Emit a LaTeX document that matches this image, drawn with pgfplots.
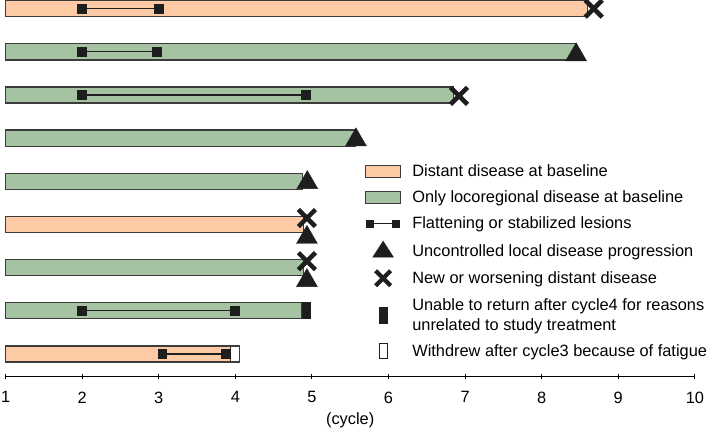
\documentclass[border=0pt]{standalone}
\usepackage{fontspec}
\setmainfont{Liberation Sans}
\usepackage{pgfplots}
\pgfplotsset{compat=1.18}

\definecolor{distant}{RGB}{252,203,166}
\definecolor{locoreg}{RGB}{165,195,163}
\definecolor{edge}{RGB}{60,60,60}
\definecolor{mk}{RGB}{30,30,30}

% bar outlines, half height 0.186 around each row
\pgfplotsset{
  swim/.style={draw=edge, line width=1.3pt, fill=#1, forget plot},
  flat/.style={mk, line width=1.2pt, mark=square*, mark size=4.3pt, mark options={fill=mk}, forget plot},
}

\begin{document}
\begin{tikzpicture}[font=\fontsize{16.3}{19.5}\selectfont]
\begin{axis}[
  x=76.3pt, y=43pt,
  xmin=1, xmax=10, ymin=0.47, ymax=9.27,
  axis x line*=bottom, axis y line=none,
  xtick={1,...,10}, ytick=\empty,
  xtick align=center, major tick length=5pt,
  tick style={black, line width=0.9pt},
  axis line style={black, line width=1pt},
  /pgf/number format/assume math mode=true,
  xticklabel style={inner sep=1pt, yshift=-11pt},
  xlabel={(cycle)},
  xlabel style={yshift=-5pt},
  clip=false,
  legend style={at={(axis cs:5.69,5.44)}, anchor=north west, draw=none, fill=none,
    row sep=8.7pt, column sep=9pt, inner sep=0pt, legend cell align=left},
]
% --- bars ---
\addplot[swim=distant] coordinates {(1,8.814) (8.6,8.814) (8.6,9.186) (1,9.186)} -- cycle;
\addplot[swim=locoreg] coordinates {(1,7.814) (8.45,7.814) (8.45,8.186) (1,8.186)} -- cycle;
\addplot[swim=locoreg] coordinates {(1,6.814) (6.85,6.814) (6.85,7.186) (1,7.186)} -- cycle;
\addplot[swim=locoreg] coordinates {(1,5.814) (5.57,5.814) (5.57,6.186) (1,6.186)} -- cycle;
\addplot[swim=locoreg] coordinates {(1,4.814) (4.88,4.814) (4.88,5.186) (1,5.186)} -- cycle;
\addplot[swim=distant] coordinates {(1,3.814) (4.89,3.814) (4.89,4.186) (1,4.186)} -- cycle;
\addplot[swim=locoreg] coordinates {(1,2.814) (4.89,2.814) (4.89,3.186) (1,3.186)} -- cycle;
\addplot[swim=locoreg] coordinates {(1,1.814) (4.87,1.814) (4.87,2.186) (1,2.186)} -- cycle;
\addplot[swim=distant] coordinates {(1,0.814) (3.94,0.814) (3.94,1.186) (1,1.186)} -- cycle;
% end blocks: unable to return (black), withdrew (white)
\addplot[draw=mk, fill=mk, line width=0.8pt, forget plot] coordinates {(4.87,1.814) (4.98,1.814) (4.98,2.186) (4.87,2.186)} -- cycle;
\addplot[draw=edge, fill=white, line width=1.1pt, forget plot] coordinates {(3.94,0.814) (4.05,0.814) (4.05,1.186) (3.94,1.186)} -- cycle;

% --- flattening / stabilized lesions ---
\addplot[flat] coordinates {(2,9) (3,9)};
\addplot[flat] coordinates {(2,8) (2.98,8)};
\addplot[flat] coordinates {(2,7) (4.92,7)};
\addplot[flat] coordinates {(2,2) (4,2)};
\addplot[flat] coordinates {(3.05,1) (3.88,1)};

% --- uncontrolled local progression ---
\addplot[only marks, mark=triangle*, mark size=12pt, mark options={fill=mk, draw=mk}, forget plot]
  coordinates {(8.45,7.93) (5.575,5.96) (4.94,4.97) (4.935,3.7) (4.935,2.7)};

% --- new or worsening distant disease ---
\addplot[only marks, mark=x, mark size=12pt, mark options={mk, line width=4.5pt}, forget plot]
  coordinates {(8.68,9) (6.92,6.98) (4.935,4.15) (4.935,3.15)};

% --- legend ---
\addlegendimage{legend image code/.code={\draw[fill=distant,draw=edge,line width=1.2pt] (0pt,-6pt) rectangle (35pt,6pt);}}
\addlegendentry{Distant disease at baseline}
\addlegendimage{legend image code/.code={\draw[fill=locoreg,draw=edge,line width=1.2pt] (0pt,-6pt) rectangle (35pt,6pt);}}
\addlegendentry{Only locoregional disease at baseline}
\addlegendimage{legend image code/.code={\draw[mk,line width=1.2pt] (3pt,0pt) -- (32pt,0pt);
  \fill[mk] (1pt,-3.5pt) rectangle (8pt,3.5pt); \fill[mk] (27pt,-3.5pt) rectangle (34pt,3.5pt);}}
\addlegendentry{Flattening or stabilized lesions}
\addlegendimage{legend image code/.code={\fill[mk] (7.2pt,-6pt) -- (27.8pt,-6pt) -- (17.5pt,10pt) -- cycle;}}
\addlegendentry{Uncontrolled local disease progression}
\addlegendimage{legend image code/.code={\draw[mk,line width=4.3pt] (10pt,-7.5pt) -- (25pt,7.5pt) (10pt,7.5pt) -- (25pt,-7.5pt);}}
\addlegendentry{New or worsening distant disease}
\addlegendimage{legend image code/.code={\fill[mk] (13.5pt,-8pt) rectangle (21.5pt,8pt);}}
\addlegendentry[align=left]{Unable to return after cycle4 for reasons\\unrelated to study treatment}
\addlegendimage{legend image code/.code={\draw[mk,fill=white,line width=1pt] (13.5pt,-7.5pt) rectangle (21.5pt,7.5pt);}}
\addlegendentry{Withdrew after cycle3 because of fatigue}
\end{axis}
\end{tikzpicture}
\end{document}
